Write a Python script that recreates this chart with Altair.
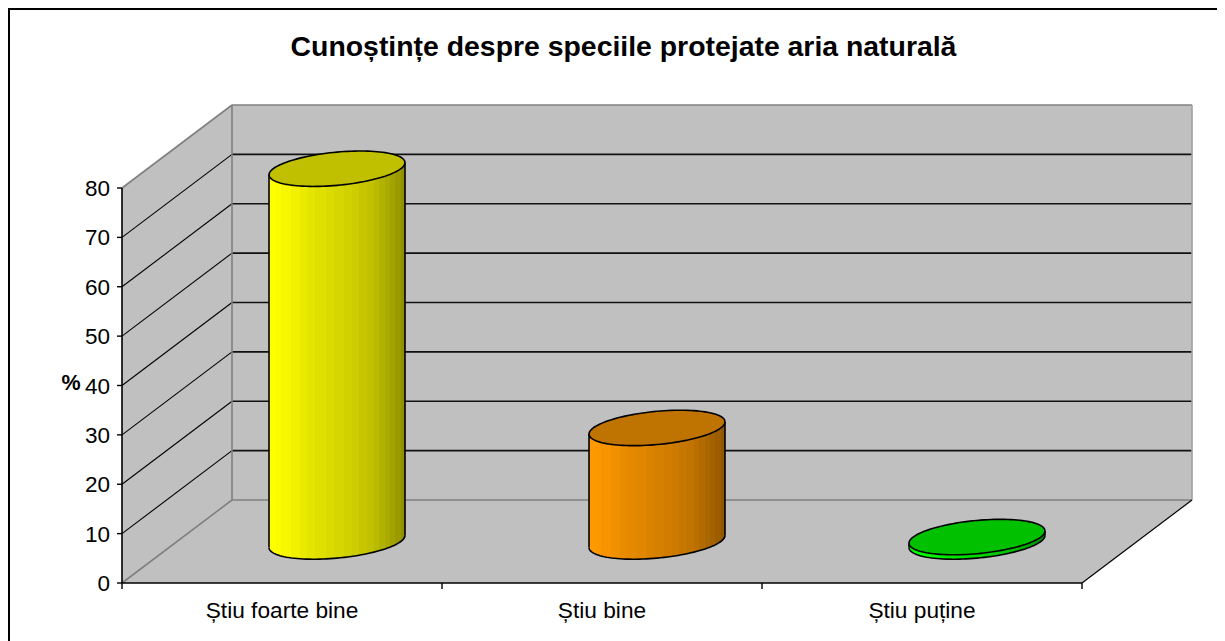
import math
import altair as alt
import pandas as pd

title_text = "Cunoștințe despre speciile protejate aria naturală"
categories = ["Știu foarte bine", "Știu bine", "Știu puține"]
values = [75.5, 23.0, 0.9]
tick_values = [0, 10, 20, 30, 40, 50, 60, 70, 80]
base_rgb = [(255, 255, 0), (255, 153, 0), (0, 255, 0)]
top_colors = ["#C0C000", "#BF7300", "#00C000"]
stripe_edges = [0.0, 0.05, 0.09, 0.16, 0.23, 0.28, 0.34, 0.42, 0.48, 0.55, 0.61, 0.66, 0.72,
                0.77, 0.81, 0.85, 0.89, 0.93, 0.97, 1.0]
stripe_shades = [1.0, 0.99, 0.97, 0.95, 0.92, 0.90, 0.88, 0.86, 0.84, 0.82, 0.80, 0.78,
                 0.76, 0.73, 0.70, 0.67, 0.64, 0.61, 0.57]

W, H = 1209, 633
PX_X, PX_Y = 320.0, 4.9375          # pixels per category and per value unit
ORIGIN_X, ORIGIN_Y = 122 - 8, 583 - 8
DEPTH_X, DEPTH_Y = 110 / PX_X, 83 / PX_Y  # the 3-D depth vector in scale units
RX, RD = 63.8 / PX_X, 0.2134        # cylinder radius across, and along the depth
x_dom = [-ORIGIN_X / PX_X, (W - ORIGIN_X) / PX_X]
y_dom = [(ORIGIN_Y - H) / PX_Y, ORIGIN_Y / PX_Y]
XS = alt.Scale(domain=x_dom, nice=False, zero=False)
YS = alt.Scale(domain=y_dom, nice=False, zero=False)
X = alt.X("x:Q", scale=XS, axis=None)
Y = alt.Y("y:Q", scale=YS, axis=None)
X2, Y2 = alt.X2("x2:Q"), alt.Y2("y2:Q")
N_CAT = len(categories)
VMAX = tick_values[-1]


def proj(c, v, d):
    return c + d * DEPTH_X, v + d * DEPTH_Y


def segs(rows, color, width):
    df = pd.DataFrame([{"x": a[0], "y": a[1], "x2": b[0], "y2": b[1]} for a, b in rows])
    return alt.Chart(df).mark_rule(color=color, strokeWidth=width).encode(x=X, y=Y, x2=X2, y2=Y2)


def band(rows, **kw):
    df = pd.DataFrame(rows, columns=["x", "y", "y2"])
    return alt.Chart(df).mark_area(interpolate="linear", **kw).encode(x=X, y=Y, y2=Y2)


def path(points, color, width=1.6):
    df = pd.DataFrame([{"x": p[0], "y": p[1], "i": i} for i, p in enumerate(points)])
    return alt.Chart(df).mark_line(color=color, strokeWidth=width, interpolate="linear").encode(
        x=X, y=Y, order=alt.Order("i:Q"))


GREY = "#C0C0C0"
layers = []
# back wall, left wall, floor
layers.append(band([(DEPTH_X, VMAX + DEPTH_Y, DEPTH_Y), (N_CAT + DEPTH_X, VMAX + DEPTH_Y, DEPTH_Y)], color=GREY))
layers.append(band([(0, 0, VMAX), (DEPTH_X, DEPTH_Y, VMAX + DEPTH_Y)], color=GREY))
layers.append(band([(0, 0, 0), (DEPTH_X, 0, DEPTH_Y), (N_CAT, 0, DEPTH_Y),
                    (N_CAT + DEPTH_X, DEPTH_Y, DEPTH_Y)], color=GREY))
# gridlines
inner = tick_values[1:-1]
layers.append(segs([(proj(0, t, 1), proj(N_CAT, t, 1)) for t in inner], "#111111", 1.6))
layers.append(segs([(proj(0, t, 0), proj(0, t, 1)) for t in inner], "#000000", 1.1))
# frame edges
layers.append(segs([(proj(0, 0, 1), proj(0, VMAX, 1)),
                    (proj(0, VMAX, 1), proj(N_CAT, VMAX, 1)),
                    (proj(0, 0, 1), proj(N_CAT, 0, 1)),
                    (proj(0, VMAX, 0), proj(0, VMAX, 1)),
                    (proj(0, 0, 0), proj(0, 0, 1))], "#808080", 1.6))
layers.append(segs([(proj(N_CAT, 0, 1), proj(N_CAT, VMAX, 1))], "#A0A0A0", 1.6))
layers.append(segs([(proj(N_CAT, 0, 0), proj(N_CAT, 0, 1))], "#000000", 1.2))


# cylinders
def arcs(cx, cy, n=60):
    A, B, C = RX, RD * DEPTH_X, RD * DEPTH_Y
    R = math.hypot(A, B)
    t0 = math.atan2(B, A)
    upper, lower = [], []
    for k in range(n + 1):
        s = math.pi * k / n
        u = R * math.cos(s)
        upper.append((cx + u, cy + C * math.sin(t0 + s)))
        lower.append((cx + u, cy + C * math.sin(t0 - s)))
    return upper, lower


for k, v in enumerate(values):
    cx, cy = proj(k + 0.5, 0, 0.5)
    up0, lo0 = arcs(cx, cy)
    up1, lo1 = arcs(cx, cy + v)
    stops = []
    for i, f in enumerate(stripe_shades):
        col = "#%02X%02X%02X" % tuple(int(c * f) for c in base_rgb[k])
        stops.append(alt.GradientStop(color=col, offset=stripe_edges[i]))
        stops.append(alt.GradientStop(color=col, offset=stripe_edges[i + 1]))
    grad = alt.LinearGradient(gradient="linear", x1=0, x2=1, y1=0, y2=0, stops=stops)
    layers.append(band([(a[0], a[1], b[1]) for a, b in zip(lo0, lo1)], color=grad))
    layers.append(band([(a[0], a[1], b[1]) for a, b in zip(lo1, up1)], color=top_colors[k]))
    layers.append(path(lo0, "#000000"))
    layers.append(path(up1 + lo1[::-1], "#000000"))
    layers.append(segs([(lo0[0], lo1[0]), (lo0[-1], lo1[-1])], "#000000", 1.6))

# axis lines and ticks
layers.append(segs([((0, 0), (0, VMAX)), ((0, 0), (N_CAT, 0))], "#000000", 1.6))
df_yt = pd.DataFrame({"x": [0.0] * len(tick_values), "y": tick_values, "t": [str(t) for t in tick_values]})
tx = 5 / PX_X
ty = 6 / PX_Y
layers.append(segs([((-tx, t), (0, t)) for t in tick_values], "#000000", 1.4))
layers.append(segs([((i, -ty), (i, 0)) for i in range(N_CAT + 1)], "#000000", 1.4))
FONT = "Liberation Sans"
layers.append(alt.Chart(df_yt).mark_text(font=FONT, fontSize=22.5, align="right", baseline="middle", dx=-12, dy=1, color="#000000").encode(x=X, y=Y, text="t:N"))
df_xl = pd.DataFrame({"x": [i + 0.5 for i in range(N_CAT)], "y": [0.0] * N_CAT, "t": categories})
layers.append(alt.Chart(df_xl).mark_text(font=FONT, fontSize=22.7, align="center", baseline="middle", dy=28, color="#000000").encode(x=X, y=Y, text="t:N"))
df_one = pd.DataFrame({"t": [title_text], "u": ["%"]})
layers.append(alt.Chart(df_one).mark_text(font=FONT, fontSize=28.4, fontWeight="bold", align="center", baseline="middle", color="#000000").encode(
    x=alt.value(615.5), y=alt.value(38.5), text="t:N"))
layers.append(alt.Chart(df_one).mark_text(font=FONT, fontSize=21.5, fontWeight="bold", align="center", baseline="middle", color="#000000").encode(
    x=alt.value(63), y=alt.value(375.5), text="u:N"))
# chart frame: the reference shows only its left and top edges
layers.append(alt.Chart(df_one).mark_rule(color="#000000", strokeWidth=2).encode(
    x=alt.value(1), y=alt.value(0), y2=alt.value(H)))
layers.append(alt.Chart(df_one).mark_rule(color="#000000", strokeWidth=2).encode(
    x=alt.value(0), x2=alt.value(W), y=alt.value(1)))

chart = alt.layer(*layers).properties(
    width=W, height=H, padding=0, autosize=alt.AutoSizeParams(type="none"), background="#FFFFFF"
).configure_view(stroke=None)
chart.save("out.html", embed_options={"renderer": "svg", "actions": False})
